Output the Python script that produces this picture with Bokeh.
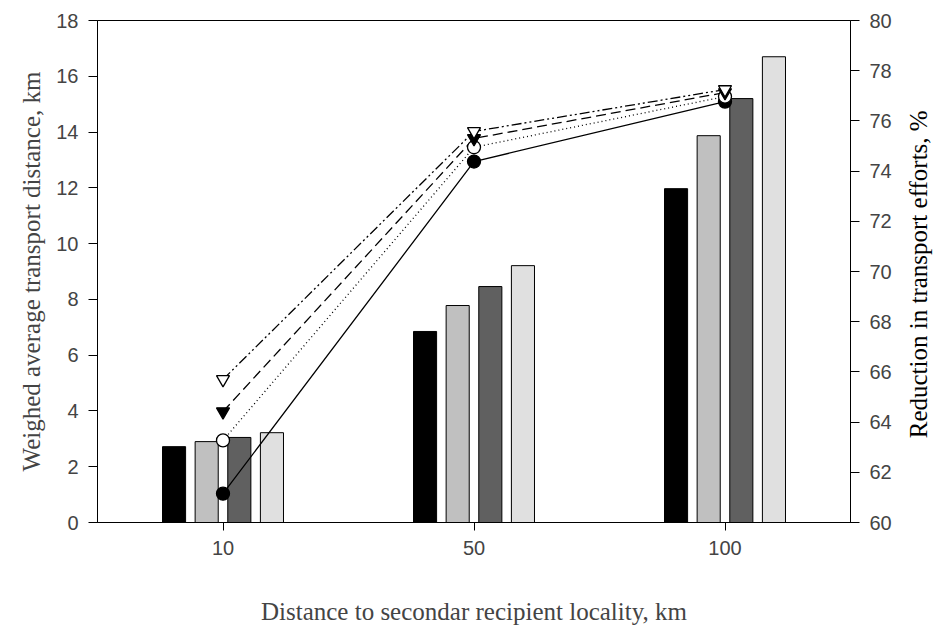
import math
from bokeh.plotting import figure
from bokeh.layouts import row
from bokeh.models import FactorRange, Range1d, LinearAxis, ColumnDataSource, FixedTicker
from bokeh.core.properties import value
from bokeh.transform import dodge
from bokeh.embed import file_html
from bokeh.resources import INLINE

# Data
categories = ["10", "50", "100"]
bar_black = [2.72, 6.85, 11.97]
bar_gray = [2.90, 7.78, 13.87]
bar_dark = [3.05, 8.46, 15.20]
bar_light = [3.22, 9.21, 16.70]

red_filled_circle = [61.15, 74.38, 76.77]
red_open_circle = [63.27, 74.95, 76.97]
red_filled_tri = [64.42, 75.30, 77.13]
red_open_tri = [65.70, 75.58, 77.25]

left_ticks = [0, 2, 4, 6, 8, 10, 12, 14, 16, 18]
right_ticks = [60, 62, 64, 66, 68, 70, 72, 74, 76, 78, 80]

FW, FH = 753, 502
TOP, BOTTOM = 20, 105
H = TOP + FH + BOTTOM

src = ColumnDataSource(dict(
    cat=categories, b1=bar_black, b2=bar_gray, b3=bar_dark, b4=bar_light,
    l1=red_filled_circle, l2=red_open_circle, l3=red_filled_tri, l4=red_open_tri,
))

p = figure(x_range=FactorRange(*categories, range_padding=0),
           y_range=Range1d(0, 18),
           frame_width=FW, frame_height=FH,
           min_border_left=97, min_border_top=TOP, min_border_right=55, min_border_bottom=BOTTOM,
           output_backend="svg", toolbar_location=None)
p.extra_y_ranges = {"right": Range1d(60, 80)}

p.xgrid.visible = False
p.ygrid.visible = False
p.outline_line_color = "black"
p.outline_line_width = 1

bar_w = 0.092
offsets = [-0.195, -0.065, 0.065, 0.195]
cols = ["b1", "b2", "b3", "b4"]
colors = ["#000000", "#c0c0c0", "#606060", "#e0e0e0"]
for off, c, col in zip(offsets, cols, colors):
    p.vbar(x=dodge("cat", off, range=p.x_range), top=c, bottom=0, width=bar_w,
           source=src, fill_color=col, line_color="black", line_width=1)

line_specs = [
    ("l1", "solid", "circle", "black"),
    ("l2", "1 3", "circle", "white"),
    ("l3", "10 5", "inverted_triangle", "black"),
    ("l4", "10 3 2 3 2 3", "inverted_triangle", "white"),
]
for col, dash, marker, fill in line_specs:
    p.line(x="cat", y=col, source=src, y_range_name="right",
           line_color="black", line_width=1.3, line_dash=dash)
for col, dash, marker, fill in line_specs:
    p.scatter(x="cat", y=col, source=src, y_range_name="right", marker=marker,
              size=13, fill_color=fill, line_color="black", line_width=1.3)

font = "Liberation Sans"
serif = "Liberation Serif"

# Left axis
ya = p.yaxis[0]
ya.ticker = FixedTicker(ticks=left_ticks)
ya.minor_tick_line_color = None
ya.major_tick_out = 9
ya.major_tick_in = 0
ya.major_label_text_font = font
ya.major_label_text_font_size = "20px"
ya.major_label_standoff = 10
ya.axis_label = "Weighed average transport distance, km"
ya.axis_label_text_font = serif
ya.axis_label_text_font_style = "normal"
ya.axis_label_text_font_size = "25px"
ya.axis_label_standoff = 8

# Right axis
ra = LinearAxis(y_range_name="right", ticker=FixedTicker(ticks=right_ticks))
ra.minor_tick_line_color = None
ra.major_tick_out = 9
ra.major_tick_in = 0
ra.major_label_text_font = font
ra.major_label_text_font_size = "20px"
ra.major_label_standoff = 10
p.add_layout(ra, "right")

# X axis
xa = p.xaxis[0]
xa.major_tick_out = 8
xa.major_tick_in = 0
xa.minor_tick_line_color = None
xa.major_label_text_font = font
xa.major_label_text_font_size = "20px"
xa.major_label_standoff = 10
xa.axis_label = "Distance to secondar recipient locality, km"
xa.axis_label_text_font = serif
xa.axis_label_text_font_style = "normal"
xa.axis_label_text_font_size = "25px"
xa.axis_label_standoff = 40

# Right-hand title (reads bottom to top) in a narrow companion figure
SW = 30
side = figure(width=SW, height=H, x_range=Range1d(0, SW), y_range=Range1d(H, 0),
              title=None, x_axis_type=None, y_axis_type=None,
              min_border_left=0, min_border_right=0, min_border_top=0, min_border_bottom=0,
              output_backend="svg", toolbar_location=None)
side.grid.visible = False
side.outline_line_color = None
side.text(x=[13], y=[TOP + FH / 2 + 46], text=["Reduction in transport efforts, %"],
          angle=math.pi / 2, text_align="center", text_baseline="middle",
          text_font=value(serif), text_font_size="25px", text_color="black")

layout = row(p, side, spacing=0)
open("out.html", "w").write(file_html(layout, INLINE))
